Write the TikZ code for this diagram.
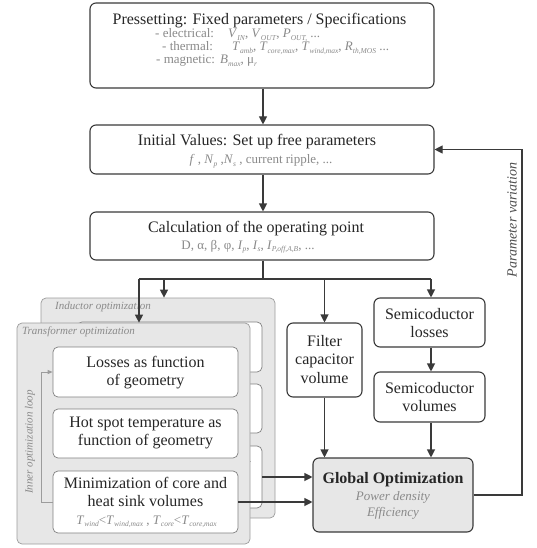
\documentclass[tikz,border=0pt]{standalone}
\usepackage{fontspec}
\setmainfont{Liberation Serif}
\usetikzlibrary{arrows.meta}
\definecolor{lc}{HTML}{3A3A3A}
\definecolor{gtx}{HTML}{8A8A8A}
\definecolor{gfill}{HTML}{E7E7E7}
\definecolor{gbord}{HTML}{9C9C9C}
\definecolor{ibord}{HTML}{808080}
\newcommand{\sv}[2]{\textit{#1}\raisebox{-0.17em}{\fontsize{7.5}{8}\selectfont\textit{#2}}}
\begin{document}
\begin{tikzpicture}[x=1pt,y=-1pt,
 mainbox/.style={draw=lc, line width=1.1pt, rounded corners=6pt, fill=white, inner sep=0pt},
 globbox/.style={draw=lc, line width=1.1pt, rounded corners=6pt, fill=gfill, inner sep=0pt},
 optbox/.style={draw=gbord, line width=0.7pt, rounded corners=5pt, fill=gfill, inner sep=0pt},
 innerbox/.style={draw=ibord, line width=0.7pt, rounded corners=5pt, fill=white, inner sep=0pt},
 arr/.style={draw=lc, line width=1.1pt, -{Triangle[length=8pt,width=8pt]}},
 conn/.style={draw=lc, line width=1.1pt},
 looparr/.style={draw=gbord, line width=0.8pt, -{Triangle[length=5pt,width=4pt]}},
 maintext/.style={font=\fontsize{16}{18.5}\selectfont, text=black!85, align=center, inner sep=0pt},
 boldtext/.style={font=\fontsize{16}{18}\selectfont\bfseries, text=black!85, inner sep=0pt},
 subtext/.style={font=\fontsize{13}{14}\selectfont, text=gtx, inner sep=0pt},
 subital/.style={font=\fontsize{13}{14}\selectfont\itshape, text=gtx, inner sep=0pt},
 lbl/.style={font=\fontsize{11}{12}\selectfont\itshape, text=gtx, inner sep=0pt},
]
\useasboundingbox (0,0) rectangle (536,548);

% ---- top chain ----
\node[mainbox, minimum width=344pt, minimum height=85pt] (b1) at (262,45.5) {};
\node[maintext, anchor=base] (t1) at (259.5,25) {Pressetting: Fixed parameters / Specifications};
\node[subtext, anchor=base west] (e1) at (155,38) {- electrical:};
\node[subtext, anchor=base west] (e2) at (228,38) {\sv{V}{IN}, \sv{V}{OUT}, \sv{P}{OUT,} ...};
\node[subtext, anchor=base west] (h1) at (162,51) {- thermal:};
\node[subtext, anchor=base west] (h2) at (232,51) {\sv{T}{amb}, \sv{T}{core,max}, \sv{T}{wind,max}, \sv{R}{th,MOS} ...};
\node[subtext, anchor=base west] (m1) at (156,64) {- magnetic:};
\node[subtext, anchor=base west] (m2) at (220,64) {\sv{B}{max}, μ\raisebox{-0.17em}{\fontsize{7.5}{8}\selectfont\textit{r}}};

\node[mainbox, minimum width=344pt, minimum height=49pt] (b2) at (262,149.5) {};
\node[maintext] (t2) at (257,142) {Initial Values: Set up free parameters};
\node[subtext, anchor=base] (s2) at (261,164) {\textit{f} , \sv{N}{p} ,\sv{N}{s} , current ripple, ...};

\node[mainbox, minimum width=344pt, minimum height=48pt] (b3) at (262,236) {};
\node[maintext] (t3) at (256,229) {Calculation of the operating point};
\node[subtext, anchor=base] (s3) at (248,249) {D, α, β, φ, \sv{I}{p}, \sv{I}{s}, \sv{I}{P,off,A,B}, ...};

% ---- inductor panel ----
\node[optbox, minimum width=234pt, minimum height=220pt] (ind) at (158,408) {};
\node[lbl, anchor=west] (indl) at (55,307) {Inductor optimization};
\node[innerbox, minimum width=185pt, minimum height=50pt] (ib1) at (169.5,347) {};
\node[innerbox, minimum width=185pt, minimum height=49pt] (ib2) at (169.5,408.5) {};
\node[innerbox, minimum width=185pt, minimum height=62pt] (ib3) at (169.5,477) {};
\node[maintext] (ib3t) at (169.5,457) {Minimization of core and};

% ---- transformer panel ----
\node[optbox, minimum width=233pt, minimum height=221pt] (tr) at (133.5,433.5) {};
\node[lbl, anchor=west] (trl) at (22,332) {Transformer optimization};
\node[innerbox, minimum width=185pt, minimum height=50pt] (tb1) at (145.5,372) {};
\node[maintext] (tb1t) at (145.5,372.5) {Losses as function\\of geometry};
\node[innerbox, minimum width=185pt, minimum height=49pt] (tb2) at (145.5,433.5) {};
\node[maintext] (tb2t) at (145.5,433) {Hot spot temperature as\\function of geometry};
\node[innerbox, minimum width=185pt, minimum height=62pt] (tb3) at (145.5,502) {};
\node[maintext] (tb3t) at (145.5,492) {Minimization of core and\\heat sink volumes};
\node[subtext, anchor=base] (tb3s) at (146.5,524) {\sv{T}{wind}<\sv{T}{wind,max} , \sv{T}{core}<\sv{T}{core,max}};
\node[lbl, rotate=90] (loopl) at (30,442) {Inner optimization loop};
\coordinate (lx) at (41,0);
\draw[looparr] (tb3.west) -- (tb3.west -| lx) -- (tb1.west -| lx) -- (tb1.west);

% ---- right column ----
\node[mainbox, minimum width=75pt, minimum height=74pt] (fc) at (324.5,360) {};
\node[maintext, text width=75pt] (fct) at (324.5,359.5) {Filter\\capacitor\\volume};
\node[mainbox, minimum width=111pt, minimum height=49pt] (sl) at (429.5,322.5) {};
\node[maintext] (slt) at (429.5,323) {Semicoductor\\losses};
\node[mainbox, minimum width=111pt, minimum height=50pt] (sv) at (429.5,397) {};
\node[maintext] (svt) at (429.5,397) {Semicoductor\\volumes};

\node[globbox, minimum width=160pt, minimum height=74pt] (gl) at (393,495) {};
\node[boldtext] (glt) at (393,480) {Global Optimization};
\node[subital] (gl1) at (393,497) {Power density};
\node[subital] (gl2) at (393,513) {Efficiency};

% ---- connectors ----
\coordinate (spine) at (263,0);
\draw[arr] (b1.south -| spine) -- (b2.north -| spine);
\draw[arr] (b2.south -| spine) -- (b3.north -| spine);
\coordinate (j) at (263,279);
\coordinate (jT) at (139,279);
\coordinate (jI) at (164,279);
\coordinate (jS) at (431,279);
\draw[conn] (b3.south -| spine) -- (j);
\draw[conn] (jT) -- (jS);
\draw[arr] (jI) -- (jI |- ind.north);
\draw[arr] (jT) -- (jT |- tr.north);
\draw[arr] (j -| fc) -- (fc.north);
\draw[arr] (jS) -- (jS |- sl.north);
\draw[arr] (sl.south -| jS) -- (sv.north -| jS);
\draw[arr] (sv.south -| jS) -- (gl.north -| jS);
\draw[arr] (fc.south) -- (fc.south |- gl.north);
\draw[arr] (ib3.east) -- (gl.west |- ib3.east);
\draw[arr] (tb3.east) -- (gl.west |- tb3.east);
\coordinate (fb) at (522,0);
\draw[arr] (gl.east) -| (fb |- b2.east) -- (b2.east);
\node[font=\fontsize{14}{16}\selectfont\itshape, text=black!70, rotate=90, inner sep=0pt] (pv) at (512,220) {Parameter variation};
\end{tikzpicture}
\end{document}
